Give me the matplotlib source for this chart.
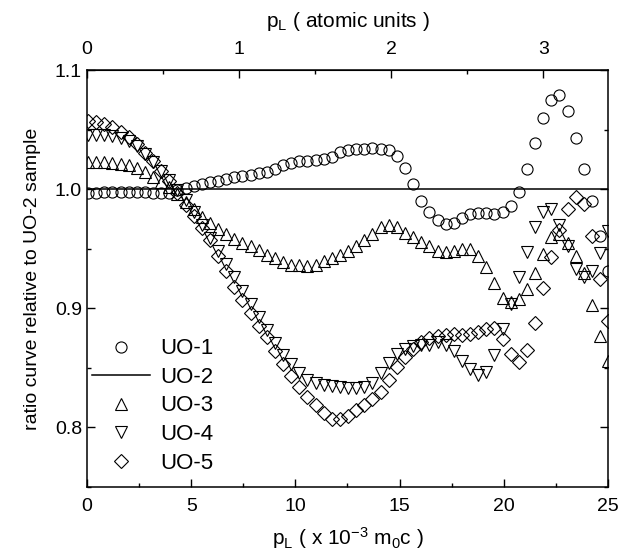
import numpy as np
import matplotlib
matplotlib.use("Agg")
import matplotlib.pyplot as plt
from matplotlib.ticker import MultipleLocator

plt.rcParams['font.family'] = ['Liberation Sans', 'DejaVu Sans']
plt.rcParams['mathtext.default'] = 'regular'

# momentum grid (x 10^-3 m0c), one value per measured point
p_l = np.round(0.05 + 0.39 * np.arange(65), 2)

uo1 = [0.9965, 0.997, 0.9975, 0.998, 0.998, 0.998, 0.998, 0.9975, 0.997, 0.9965,
       0.997, 0.999, 1.001, 1.003, 1.0045, 1.006, 1.007, 1.0085, 1.010, 1.011,
       1.012, 1.0135, 1.0145, 1.017, 1.020, 1.022, 1.024, 1.024, 1.0245, 1.025,
       1.027, 1.031, 1.033, 1.0335, 1.034, 1.0345, 1.034, 1.033, 1.028, 1.018,
       1.004, 0.990, 0.981, 0.974, 0.971, 0.972, 0.976, 0.979, 0.980, 0.980,
       0.979, 0.981, 0.986, 0.998, 1.017, 1.039, 1.060, 1.075, 1.079, 1.066,
       1.043, 1.017, 0.990, 0.961, 0.931]

uo2_x = [0, 25]
uo2 = [1.0, 1.0]

uo3 = [1.0226, 1.0226, 1.0225, 1.0222, 1.0215, 1.0205, 1.018, 1.014, 1.010, 1.006,
       1.0015, 0.996, 0.989, 0.983, 0.977, 0.9715, 0.9665, 0.962, 0.958, 0.9545,
       0.952, 0.949, 0.945, 0.942, 0.939, 0.9365, 0.936, 0.9355, 0.936, 0.9393,
       0.942, 0.945, 0.9485, 0.952, 0.9575, 0.9625, 0.968, 0.9696, 0.968, 0.963,
       0.9596, 0.956, 0.9526, 0.948, 0.947, 0.948, 0.950, 0.950, 0.944, 0.9345,
       0.921, 0.909, 0.905, 0.908, 0.916, 0.930, 0.9456, 0.960, 0.962, 0.955,
       0.944, 0.930, 0.903, 0.877, 0.856]

uo4 = [1.0456, 1.0455, 1.0452, 1.0445, 1.043, 1.040, 1.036, 1.0295, 1.0225, 1.0155,
       1.0075, 0.9995, 0.991, 0.981, 0.970, 0.959, 0.948, 0.9375, 0.926, 0.9145,
       0.9035, 0.8925, 0.882, 0.871, 0.861, 0.853, 0.846, 0.840, 0.8375, 0.836,
       0.835, 0.834, 0.8328, 0.8328, 0.834, 0.837, 0.8455, 0.854, 0.862, 0.8655,
       0.868, 0.869, 0.869, 0.8715, 0.869, 0.864, 0.856, 0.849, 0.8437, 0.8466,
       0.8605, 0.883, 0.904, 0.926, 0.947, 0.968, 0.981, 0.983, 0.970, 0.9526,
       0.933, 0.926, 0.931, 0.946, 0.965]

uo5 = [1.057, 1.0565, 1.055, 1.052, 1.048, 1.0435, 1.0375, 1.0305, 1.0235, 1.0155,
       1.0065, 0.9965, 0.987, 0.9775, 0.967, 0.957, 0.944, 0.931, 0.918, 0.907,
       0.896, 0.8855, 0.8755, 0.864, 0.853, 0.8435, 0.834, 0.8255, 0.8185, 0.812,
       0.8075, 0.807, 0.8095, 0.8145, 0.819, 0.8235, 0.830, 0.8395, 0.851, 0.859,
       0.866, 0.872, 0.875, 0.877, 0.878, 0.8787, 0.878, 0.8787, 0.880, 0.883,
       0.8834, 0.8745, 0.862, 0.855, 0.8647, 0.888, 0.917, 0.943, 0.966, 0.983,
       0.993, 0.9875, 0.961, 0.925, 0.889]

AU = 7.297  # 1 atomic unit of momentum in 10^-3 m0c

fig = plt.figure(figsize=(6.33, 5.53), dpi=100)
ax = fig.add_axes([0.1374, 0.1193, 0.8231, 0.7541])

mk = dict(linestyle='none', markerfacecolor='none', markeredgecolor='black',
          markeredgewidth=0.8)
ax.plot(p_l, uo1, marker='o', markersize=8, label='UO-1', **mk)
ax.plot(uo2_x, uo2, color='black', linewidth=1.1, label='UO-2')
ax.plot(p_l, uo3, marker='^', markersize=9, label='UO-3', **mk)
ax.plot(p_l, uo4, marker='v', markersize=9, label='UO-4', **mk)
ax.plot(p_l, uo5, marker='D', markersize=6.8, label='UO-5', **mk)

ax.set_xlim(0, 25)
ax.set_ylim(0.75, 1.1)
ax.xaxis.set_major_locator(MultipleLocator(5))
ax.xaxis.set_minor_locator(MultipleLocator(2.5))
ax.yaxis.set_major_locator(MultipleLocator(0.1))
ax.yaxis.set_minor_locator(MultipleLocator(0.05))
ax.yaxis.set_major_formatter(plt.FuncFormatter(lambda v, p: '%.1f' % v))
ax.tick_params(which='both', direction='in', top=False, right=True, labelsize=14)
ax.tick_params(which='major', length=5.5, width=1)
ax.tick_params(which='minor', length=3, width=1)
ax.tick_params(axis='x', pad=8)
for s in ax.spines.values():
    s.set_linewidth(1.1)

ax.set_xlabel(r'p$_L$ ( x 10$^{-3}$ m$_0$c )', fontsize=15, labelpad=7)
ax.set_ylabel('ratio curve relative to UO-2 sample', fontsize=14, labelpad=10)

top = ax.secondary_xaxis('top', functions=(lambda x: x / AU, lambda a: a * AU))
top.set_xticks([0, 1, 2, 3])
top.xaxis.set_minor_locator(MultipleLocator(0.5))
top.tick_params(which='both', direction='in', labelsize=14, pad=9)
top.tick_params(which='major', length=5.5, width=1)
top.tick_params(which='minor', length=3, width=1)
top.set_xlabel(r'p$_L$ ( atomic units )', fontsize=15, labelpad=10)

ax.legend(loc='lower left', frameon=False, fontsize=16, handlelength=2.6,
          handletextpad=0.45, labelspacing=0.34, borderaxespad=0.3,
          bbox_to_anchor=(-0.02, -0.005))

fig.savefig('out.png', dpi=100)
